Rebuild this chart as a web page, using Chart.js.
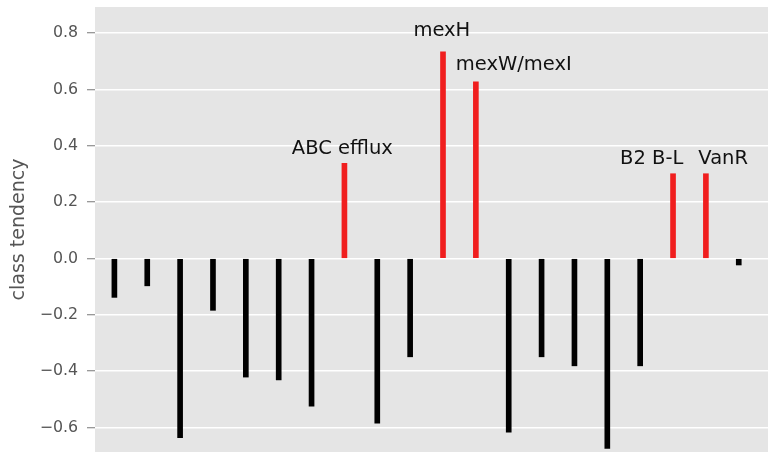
<!DOCTYPE html>
<html>
<head>
<meta charset="utf-8">
<title>class tendency</title>
<script src="https://cdn.jsdelivr.net/npm/chart.js@4/dist/chart.umd.min.js"></script>
<style>
  html, body { margin: 0; padding: 0; background: #ffffff; }
  #chart { display: block; }
</style>
</head>
<body>
<canvas id="chart" width="769" height="452"></canvas>
<script>
// Gene class positions along the x axis
const positions = [0, 1, 2, 3, 4, 5, 6, 7, 8, 9, 10, 11, 12, 13, 14, 15, 16, 17, 18, 19];

// Class tendency per gene
const tendency = [-0.138, -0.097, -0.636, -0.184, -0.421, -0.431, -0.524, 0.338, -0.585, -0.349,
                  0.734, 0.627, -0.617, -0.349, -0.381, -0.674, -0.381, 0.301, 0.301, -0.023];

// Genes highlighted in red
const highlighted = [7, 10, 11, 17, 18];

// Annotation text and its anchor (data coordinates: x position, tendency)
const annotationText = ['ABC efflux', 'mexH', 'mexW/mexI', 'B2 B-L', 'VanR'];
const annotationX = [5.40, 9.10, 10.39, 15.39, 17.77];
const annotationY = [0.371, 0.790, 0.669, 0.335, 0.335];

// Y axis ticks
const yTicks = [-0.6, -0.4, -0.2, 0.0, 0.2, 0.4, 0.6, 0.8];

const points = positions.map((x, i) => ({ x: x, y: tendency[i] }));
const barColors = positions.map((x, i) => highlighted.includes(i) ? '#f01e1e' : '#000000');

const panelBackground = {
  id: 'panelBackground',
  beforeDraw(chart) {
    const { ctx, chartArea } = chart;
    ctx.save();
    ctx.fillStyle = '#e5e5e5';
    ctx.fillRect(chartArea.left, chartArea.top, chartArea.right - chartArea.left, chartArea.bottom - chartArea.top);
    ctx.restore();
  }
};

const geneLabels = {
  id: 'geneLabels',
  afterDatasetsDraw(chart) {
    const { ctx, scales } = chart;
    ctx.save();
    ctx.fillStyle = '#111111';
    ctx.font = '19.5px "DejaVu Sans"';
    ctx.textAlign = 'left';
    ctx.textBaseline = 'alphabetic';
    annotationText.forEach((t, i) => {
      ctx.fillText(t, scales.x.getPixelForValue(annotationX[i]), scales.y.getPixelForValue(annotationY[i]));
    });
    ctx.restore();
  }
};

new Chart(document.getElementById('chart'), {
  type: 'bar',
  data: {
    datasets: [{
      data: points,
      backgroundColor: barColors,
      borderWidth: 0,
      barThickness: 5
    }]
  },
  options: {
    responsive: false,
    animation: false,
    devicePixelRatio: 1,
    layout: { padding: { top: 7, right: 1, bottom: 0, left: 0 } },
    plugins: {
      legend: { display: false },
      tooltip: { enabled: false }
    },
    scales: {
      x: {
        type: 'linear',
        display: false,
        offset: false,
        min: -0.59,
        max: 19.89
      },
      y: {
        min: -0.687,
        max: 0.893,
        afterFit(scale) {
          scale.width = 95;
          scale.paddingTop = 0;
          scale.paddingBottom = 0;
        },
        afterBuildTicks(scale) { scale.ticks = yTicks.map(v => ({ value: v })); },
        border: { display: false },
        grid: {
          color: '#ffffff',
          lineWidth: 1.5,
          drawTicks: true,
          tickLength: 8,
          tickColor: '#777777',
          tickWidth: 1
        },
        ticks: {
          padding: 9,
          color: '#555555',
          font: { family: 'DejaVu Sans', size: 15.8 },
          callback(v) {
            const s = Math.abs(v).toFixed(1);
            return v < -1e-9 ? '\u2212' + s : s;
          }
        },
        title: {
          display: true,
          text: 'class tendency',
          color: '#555555',
          font: { family: 'DejaVu Sans', size: 19, lineHeight: 1.2 },
          padding: { top: 8, bottom: 0 }
        }
      }
    }
  },
  plugins: [panelBackground, geneLabels]
});
</script>
</body>
</html>
